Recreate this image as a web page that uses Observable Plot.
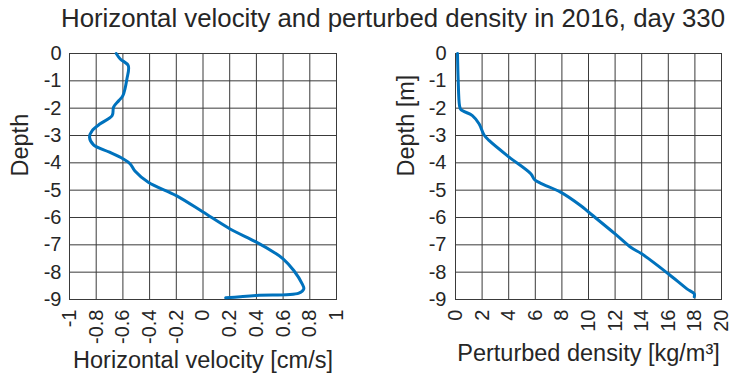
<!DOCTYPE html>
<html>
<head>
<meta charset="utf-8">
<script src="https://cdn.jsdelivr.net/npm/d3@7"></script>
<script src="https://cdn.jsdelivr.net/npm/@observablehq/plot@0.6"></script>
<style>
  html, body { margin: 0; padding: 0; background: #fff; }
  #wrap { position: relative; width: 733px; height: 383px; overflow: hidden; font-family: "Liberation Sans", Arial, sans-serif; color: #262626; }
  #title { position: absolute; left: 0; top: 5px; width: 786px; text-align: center; font-size: 25.8px; line-height: 26px; white-space: nowrap; }
  #left, #right { position: absolute; top: 0; }
  #left { left: 0; }
  #right { left: 366px; }
  svg text { fill: #262626; }
  svg g[aria-label="x-axis tick label"], svg g[aria-label="y-axis tick label"] { font-size: 20px; }
</style>
</head>
<body>
<div id="wrap">
  <div id="left"></div>
  <div id="right"></div>
  <div id="title">Horizontal velocity and perturbed density in 2016, day 330</div>
</div>
<script>
// ---- data ----
const velDepth = [0, -0.2, -0.44, -0.93, -1.54, -1.72, -1.96, -2.27, -2.57, -2.82, -3.06, -3.34, -3.61, -3.85, -4.04, -4.3, -4.71, -5.2, -5.8, -6.41, -6.9, -7.27, -7.51, -7.94, -8.43, -8.61, -8.77, -8.85, -8.94];
const velocity = [-0.65, -0.62, -0.56, -0.57, -0.60, -0.63, -0.67, -0.68, -0.77, -0.83, -0.85, -0.82, -0.70, -0.60, -0.545, -0.51, -0.41, -0.2, 0, 0.2, 0.4, 0.53, 0.6, 0.68, 0.743, 0.755, 0.718, 0.4, 0.17];

const denDepth = [0, -0.95, -1.9, -2.05, -2.27, -2.57, -2.98, -3.18, -3.79, -4.4, -4.62, -4.75, -5.07, -5.56, -5.8, -6.6, -7.1, -7.33, -8.06, -8.61, -8.79, -8.9];
const density = [0.15, 0.2, 0.3, 0.4, 1.27, 1.77, 2.15, 2.52, 4.03, 5.66, 5.95, 6.41, 7.9, 9.4, 10, 12, 13.2, 14, 16, 17.4, 17.95, 17.95];

const depthTicks = [0, -1, -2, -3, -4, -5, -6, -7, -8, -9];
const velTicks = [-1, -0.8, -0.6, -0.4, -0.2, 0, 0.2, 0.4, 0.6, 0.8, 1];
const denTicks = [0, 2, 4, 6, 8, 10, 12, 14, 16, 18, 20];

const velLabel = "Horizontal velocity [cm/s]";
const denLabel = "Perturbed density [kg/m³]";
const leftYLabel = "Depth";
const rightYLabel = "Depth [m]";

const lineColor = "#0072BD";
const gridColor = "#3a3a3a";
const fmt = d => String(d);

const velData = velDepth.map((d, i) => ({depth: d, value: velocity[i]}));
const denData = denDepth.map((d, i) => ({depth: d, value: density[i]}));

function panel({data, xDomain, xTicks, xLabel, yLabel, width, marginLeft, marginRight, yPad, yLabelDx, xLabelDy}) {
  return Plot.plot({
    width, height: 383,
    marginTop: 53, marginBottom: 84, marginLeft, marginRight,
    style: {fontFamily: "Liberation Sans, Arial, sans-serif", color: "#262626", background: "transparent"},
    x: {domain: xDomain},
    y: {domain: [-9, 0]},
    marks: [
      Plot.gridX(xTicks, {stroke: gridColor, strokeOpacity: 1, strokeWidth: 1}),
      Plot.gridY(depthTicks, {stroke: gridColor, strokeOpacity: 1, strokeWidth: 1}),
      Plot.frame({stroke: gridColor, strokeWidth: 1}),
      Plot.axisX(xTicks, {tickSize: 0, tickPadding: 10, tickRotate: -90, tickFormat: fmt, label: null, fontSize: 20}),
      Plot.axisY(depthTicks, {tickSize: 0, tickPadding: yPad, tickFormat: fmt, label: null, fontSize: 20}),
      Plot.line(data, {x: "value", y: "depth", stroke: lineColor, strokeWidth: 3, curve: "catmull-rom"}),
      Plot.text([yLabel], {frameAnchor: "left", dx: yLabelDx, rotate: -90, fontSize: 23.5, text: d => d}),
      Plot.text([xLabel], {frameAnchor: "bottom", dy: xLabelDy, fontSize: 23.5, text: d => d})
    ]
  });
}

document.getElementById("left").append(panel({
  data: velData, xDomain: [-1, 1], xTicks: velTicks, xLabel: velLabel, yLabel: leftYLabel,
  width: 366, marginLeft: 69, marginRight: 30, yPad: 8, yLabelDx: -49, xLabelDy: 68
}));
document.getElementById("right").append(panel({
  data: denData, xDomain: [0, 20], xTicks: denTicks, xLabel: denLabel, yLabel: rightYLabel,
  width: 367, marginLeft: 89, marginRight: 12, yPad: 9, yLabelDx: -49, xLabelDy: 61
}));
</script>
</body>
</html>
